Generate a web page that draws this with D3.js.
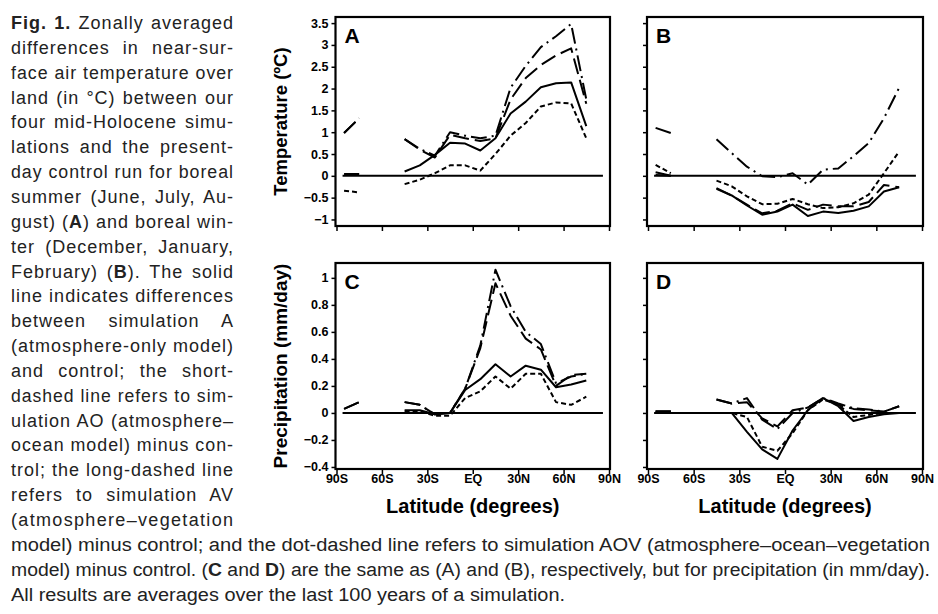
<!DOCTYPE html>
<html><head><meta charset="utf-8">
<script src="https://cdn.jsdelivr.net/npm/d3@7"></script>
<style>
html,body{margin:0;padding:0;background:#fff;}
svg{display:block;}
</style></head>
<body>
<svg id="chart" width="938" height="614"></svg>
<script>
// ---------- DATA ----------
const lats = [-85,-75,-65,-55,-45,-35,-25,-15,-5,5,15,25,35,45,55,65,75];

// Panel A: JJA temperature difference (°C)
const tempJJA_A   = [0.04,0.04,null,null,0.10,0.24,0.48,0.76,0.74,0.58,0.86,1.43,1.70,2.03,2.12,2.14,1.14];
const tempJJA_AO  = [-0.34,-0.38,null,null,-0.19,-0.09,0.06,0.24,0.24,0.12,0.50,0.92,1.21,1.59,1.68,1.66,0.86];
const tempJJA_AV  = [0.98,1.32,null,null,0.84,0.60,0.42,0.94,0.86,0.80,0.86,1.75,2.24,2.54,2.76,2.92,1.65];
const tempJJA_AOV = [0.98,1.32,null,null,0.84,0.62,0.46,1.00,0.92,0.86,0.92,2.02,2.52,2.95,3.20,3.48,1.75];

// Panel B: DJF temperature difference (°C)
const tempDJF_A   = [0.02,0.00,null,null,-0.30,-0.45,-0.68,-0.89,-0.82,-0.66,-0.92,-0.82,-0.85,-0.80,-0.70,-0.36,-0.26];
const tempDJF_AO  = [0.25,0.06,null,null,-0.11,-0.24,-0.47,-0.65,-0.64,-0.53,-0.65,-0.74,-0.72,-0.63,-0.43,0.06,0.56];
const tempDJF_AV  = [0.08,0.00,null,null,-0.28,-0.45,-0.66,-0.86,-0.80,-0.63,-0.78,-0.66,-0.70,-0.70,-0.60,-0.21,-0.26];
const tempDJF_AOV = [1.10,0.98,null,null,0.84,0.52,0.21,-0.01,-0.03,0.06,-0.20,0.14,0.17,0.45,0.75,1.32,2.02];

// Panel C: JJA precipitation difference (mm/day)
const precJJA_A   = [0.00,0.00,null,null,0.02,0.02,-0.01,0.00,0.17,0.25,0.36,0.27,0.35,0.32,0.19,0.21,0.24];
const precJJA_AO  = [0.00,0.00,null,null,0.01,0.01,-0.02,-0.02,0.11,0.16,0.27,0.18,0.29,0.29,0.08,0.06,0.12];
const precJJA_AV  = [0.03,0.08,null,null,0.08,0.06,-0.01,0.00,0.18,0.48,0.96,0.72,0.55,0.47,0.20,0.28,0.29];
const precJJA_AOV = [0.03,0.08,null,null,0.08,0.06,-0.01,0.00,0.18,0.50,1.06,0.79,0.60,0.51,0.22,0.27,0.29];

// Panel D: DJF precipitation difference (mm/day)
const precDJF_A   = [0.01,0.01,null,null,0.00,0.00,-0.14,-0.27,-0.34,-0.13,0.02,0.11,0.05,-0.06,-0.03,-0.01,0.00];
const precDJF_AO  = [0.00,0.00,null,null,0.00,0.00,-0.03,-0.25,-0.28,-0.15,0.02,0.10,0.06,-0.03,-0.015,0.00,0.00];
const precDJF_AV  = [0.01,0.01,null,null,0.10,0.07,0.08,-0.04,-0.10,0.02,0.04,0.11,0.06,0.03,0.02,0.01,0.05];
const precDJF_AOV = [0.01,0.01,null,null,0.10,0.07,0.11,-0.05,-0.12,0.00,0.04,0.11,0.07,0.035,0.025,0.01,0.05];

const latTicks  = [-90,-60,-30,0,30,60,90];
const latLabels = ["90S","60S","30S","EQ","30N","60N","90N"];
const tempTicks = [3.5,3,2.5,2,1.5,1,0.5,0,-0.5,-1];
const precTicks = [1,0.8,0.6,0.4,0.2,0,-0.2,-0.4];
const zeroLineExtent = [-86,86];

const panelLetters = ["A","B","C","D"];
const tempTitle = "Temperature (ºC)";
const precTitle = "Precipitation (mm/day)";
const xTitle = "Latitude (degrees)";

// ---------- LAYOUT ----------
const svg = d3.select("#chart");
const dashes = {A:null, AO:"5,3", AV:"16,6", AOV:"16,5,2,5"};

const colX = [[336.5,609],[648,922]];
const rowY = [{range:[226,17], domain:[-1.15,3.64], ticks:tempTicks, title:tempTitle},
              {range:[469,263], domain:[-0.415,1.11], ticks:precTicks, title:precTitle}];

const panels = [
  {row:0,col:0,letter:panelLetters[0],series:{A:tempJJA_A,AO:tempJJA_AO,AV:tempJJA_AV,AOV:tempJJA_AOV}},
  {row:0,col:1,letter:panelLetters[1],series:{A:tempDJF_A,AO:tempDJF_AO,AV:tempDJF_AV,AOV:tempDJF_AOV}},
  {row:1,col:0,letter:panelLetters[2],series:{A:precJJA_A,AO:precJJA_AO,AV:precJJA_AV,AOV:precJJA_AOV}},
  {row:1,col:1,letter:panelLetters[3],series:{A:precDJF_A,AO:precDJF_AO,AV:precDJF_AV,AOV:precDJF_AOV}},
];

const tickFont = "'Liberation Sans Narrow','Arial Narrow','Liberation Sans',Arial,sans-serif";
const boldFont = "'Liberation Sans',Arial,Helvetica,sans-serif";

panels.forEach(p => {
  const x = d3.scaleLinear().domain([-90,90]).range(colX[p.col]);
  const ry = rowY[p.row];
  const y = d3.scaleLinear().domain(ry.domain).range(ry.range);
  const g = svg.append("g");

  // left axis
  const ya = d3.axisLeft(y).tickValues(ry.ticks).tickSize(4).tickPadding(3)
      .tickFormat(p.col===0 ? d3.format("") : "");
  const yg = g.append("g").attr("transform",`translate(${x.range()[0]-1},0)`).call(ya);
  yg.select(".domain").remove();
  yg.selectAll("line").attr("stroke","#000").attr("stroke-width",1.5);
  yg.selectAll("text").attr("font-family",tickFont).attr("font-weight","bold")
    .attr("font-size",12.5).attr("fill","#000");

  // bottom axis
  const xa = d3.axisBottom(x).tickValues(latTicks).tickSize(4).tickPadding(0)
      .tickFormat(p.row===1 ? (d,i)=>latLabels[i] : "");
  const xg = g.append("g").attr("transform",`translate(0,${y.range()[0]+1})`).call(xa);
  xg.select(".domain").remove();
  xg.selectAll("line").attr("stroke","#000").attr("stroke-width",1.5);
  xg.selectAll("text").attr("font-family",tickFont).attr("font-weight","bold")
    .attr("font-size",12.5).attr("fill","#000");

  // frame
  g.append("rect")
    .attr("x",x.range()[0]-1).attr("y",y.range()[1])
    .attr("width",x.range()[1]-x.range()[0]+2).attr("height",y.range()[0]-y.range()[1])
    .attr("fill","none").attr("stroke","#000").attr("stroke-width",2.2);

  // zero line
  g.append("line")
    .attr("x1",x(zeroLineExtent[0])).attr("x2",x(zeroLineExtent[1]))
    .attr("y1",y(0)).attr("y2",y(0))
    .attr("stroke","#000").attr("stroke-width",2);

  // series
  const line = d3.line().defined(d=>d[1]!==null).x(d=>x(d[0])).y(d=>y(d[1]));
  ["AOV","AV","AO","A"].forEach(k => {
    const pts = lats.map((l,i)=>[l,p.series[k][i]]);
    g.append("path").attr("d",line(pts))
      .attr("fill","none").attr("stroke","#000").attr("stroke-width",2)
      .attr("stroke-dasharray",dashes[k]).attr("stroke-linejoin","round");
  });

  // panel letter
  g.append("text").attr("x",x.range()[0]+8).attr("y",y.range()[1]+26)
    .attr("font-family",boldFont).attr("font-weight","bold").attr("font-size",21)
    .text(p.letter);

  // x title for bottom row
  if (p.row===1) {
    g.append("text").attr("x",(x.range()[0]+x.range()[1])/2).attr("y",513)
      .attr("text-anchor","middle").attr("font-family",boldFont).attr("font-weight","bold")
      .attr("font-size",20).text(xTitle);
  }
  // y title for left column
  if (p.col===0) {
    const cy = (y.range()[0]+y.range()[1])/2;
    g.append("text").attr("transform",`translate(287,${cy}) rotate(-90)`)
      .attr("text-anchor","middle").attr("font-family",boldFont).attr("font-weight","bold")
      .attr("font-size",p.row===0 ? 18.5 : 19).text(ry.title);
  }
});

// ---------- CAPTION ----------
// [segments [text, bold], target width, mode]  mode: "j" justify, "f" fit glyphs
const captionLines = [
  [[["Fig. 1.",1],[" Zonally averaged",0]], 223, "j"],
  [[["differences in near-sur-",0]], 223, "j"],
  [[["face air temperature over",0]], 223, "j"],
  [[["land (in °C) between our",0]], 223, "j"],
  [[["four mid-Holocene simu-",0]], 223, "j"],
  [[["lations and the present-",0]], 223, "j"],
  [[["day control run for boreal",0]], 223, "j"],
  [[["summer (June, July, Au-",0]], 223, "j"],
  [[["gust) (",0],["A",1],[") and boreal win-",0]], 223, "j"],
  [[["ter (December, January,",0]], 223, "j"],
  [[["February) (",0],["B",1],["). The solid",0]], 223, "j"],
  [[["line indicates differences",0]], 223, "j"],
  [[["between simulation A",0]], 223, "j"],
  [[["(atmosphere-only model)",0]], 223, "j"],
  [[["and control; the short-",0]], 223, "j"],
  [[["dashed line refers to sim-",0]], 223, "j"],
  [[["ulation AO (atmosphere–",0]], 223, "j"],
  [[["ocean model) minus con-",0]], 223, "j"],
  [[["trol; the long-dashed line",0]], 223, "j"],
  [[["refers to simulation AV",0]], 223, "j"],
  [[["(atmosphere–vegetation",0]], 223, "j"],
  [[["model) minus control; and the dot-dashed line refers to simulation AOV (atmosphere–ocean–vegetation",0]], 919, "f"],
  [[["model) minus control. (",0],["C",1],[" and ",0],["D",1],[") are the same as (A) and (B), respectively, but for precipitation (in mm/day).",0]], 919, "f"],
  [[["All results are averages over the last 100 years of a simulation.",0]], 554, "f"],
];

const capX = 11, capY0 = 29, capDY = 24.85;
captionLines.forEach((ln, i) => {
  const [segs, width, mode] = ln;
  const t = svg.append("text").attr("x",capX).attr("y",capY0+i*capDY)
    .attr("font-family","'Liberation Sans',Arial,Helvetica,sans-serif")
    .attr("font-size",18).attr("fill","#222").style("white-space","pre");
  if (mode==="j") t.style("letter-spacing","1px");
  segs.forEach(s => t.append("tspan").attr("font-weight", s[1] ? "bold" : "normal").text(s[0]));
  const w = t.node().getBBox().width;
  const full = segs.map(s=>s[0]).join("");
  const nSp = (full.match(/ /g)||[]).length;
  if (mode==="f" || w > width) {
    t.attr("textLength",width).attr("lengthAdjust","spacingAndGlyphs");
  } else if (nSp===0) {
    t.attr("textLength",width).attr("lengthAdjust","spacing");
  } else {
    t.style("word-spacing", ((width - w)/nSp) + "px");
  }
});
</script>
</body></html>
